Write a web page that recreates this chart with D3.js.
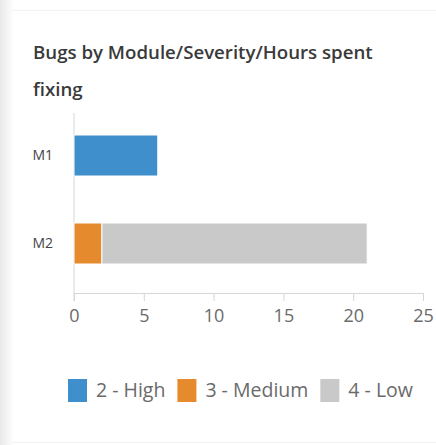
<!DOCTYPE html>
<html>
<head>
<meta charset="utf-8">
<script src="https://cdn.jsdelivr.net/npm/d3@7"></script>
<style>
  html, body { margin: 0; padding: 0; background: #fff; }
  svg { display: block; font-family: 'Open Sans', sans-serif; }
</style>
</head>
<body>
<div id="chart"></div>
<script>
const width = 436;
const height = 445;

const modules = ['M1', 'M2'];
const severities = ['2 - High', '3 - Medium', '4 - Low'];
const highHours = [6, 0];
const mediumHours = [0, 2];
const lowHours = [0, 19];
const xTicks = [0, 5, 10, 15, 20, 25];
const colors = ['#3f8fcc', '#e68a2e', '#c9c9c9'];

const rows = modules.map((m, i) => ({
  module: m,
  '2 - High': highHours[i],
  '3 - Medium': mediumHours[i],
  '4 - Low': lowHours[i],
}));

const svg = d3.select('#chart').append('svg').attr('width', width).attr('height', height);

// card background + faint edges
const grad = svg.append('defs').append('linearGradient').attr('id', 'edge');
grad.append('stop').attr('offset', '0%').attr('stop-color', '#e9e9e9');
grad.append('stop').attr('offset', '100%').attr('stop-color', '#ffffff');
svg.append('rect').attr('x', 0).attr('y', 0).attr('width', 14).attr('height', height).attr('fill', 'url(#edge)');
svg.append('line').attr('x1', 12).attr('x2', width).attr('y1', 10.5).attr('y2', 10.5).attr('stroke', '#f3f3f3');
svg.append('line').attr('x1', 12).attr('x2', width).attr('y1', 442.5).attr('y2', 442.5).attr('stroke', '#f3f3f3');

// title, sized so the first line spans about 340px like the reference
const title1 = svg.append('text')
  .attr('x', 33)
  .attr('y', 59)
  .attr('fill', '#3a3a3a')
  .style('font-size', '16px')
  .style('font-weight', 600)
  .text('Bugs by Module/Severity/Hours spent');
const titleSize = Math.min(20, 16 * 340 / title1.node().getComputedTextLength());
title1.style('font-size', `${titleSize}px`);
svg.append('text')
  .attr('x', 33)
  .attr('y', 96)
  .attr('fill', '#3a3a3a')
  .style('font-size', `${titleSize}px`)
  .style('font-weight', 600)
  .text('fixing');

const x = d3.scaleLinear().domain([0, 25]).range([74, 423]);
const y = d3.scaleBand().domain(modules).range([111.5, 287.5]).paddingInner(0.534).paddingOuter(0.267);

// x axis
const xAxis = svg.append('g')
  .attr('transform', 'translate(0, 293)')
  .call(d3.axisBottom(x).tickValues(xTicks).tickSize(8).tickSizeOuter(0).tickPadding(8));
xAxis.select('.domain').attr('stroke', '#d6d6d6');
xAxis.selectAll('.tick line').attr('stroke', '#d6d6d6');
xAxis.selectAll('.tick text').attr('fill', '#6a6a6a').style('font-size', '18px').style('font-family', "'Open Sans', sans-serif");

// y axis
const yAxis = svg.append('g')
  .attr('transform', 'translate(74, 0)')
  .call(d3.axisLeft(y).tickSize(0).tickPadding(21));
yAxis.select('.domain').remove();
yAxis.selectAll('.tick text').attr('fill', '#444').style('font-size', '14px').style('font-family', "'Open Sans', sans-serif");
svg.append('line')
  .attr('x1', 74).attr('x2', 74)
  .attr('y1', 113).attr('y2', 301)
  .attr('stroke', '#d6d6d6');

// stacked bars
const stack = d3.stack().keys(severities)(rows);
const color = d3.scaleOrdinal().domain(severities).range(colors);

svg.append('g')
  .selectAll('g')
  .data(stack)
  .join('g')
  .attr('fill', (d) => color(d.key))
  .selectAll('rect')
  .data((d) => d.filter((p) => p[1] > p[0]))
  .join('rect')
  .attr('x', (d) => x(d[0]))
  .attr('y', (d) => y(d.data.module))
  .attr('width', (d) => x(d[1]) - x(d[0]))
  .attr('height', y.bandwidth())
  .attr('stroke', '#fff')
  .attr('stroke-width', 1);

// legend
const legend = svg.append('g').attr('transform', 'translate(68, 379)');
let lx = 0;
severities.forEach((s, i) => {
  const g = legend.append('g').attr('transform', `translate(${lx}, 0)`);
  g.append('rect').attr('width', 19).attr('height', 23).attr('fill', colors[i]);
  const t = g.append('text')
    .attr('x', 28)
    .attr('y', 18)
    .attr('fill', '#6a6a6a')
    .style('font-size', '19.5px')
    .text(s);
  lx += 28 + t.node().getComputedTextLength() + 12;
});
</script>
</body>
</html>
